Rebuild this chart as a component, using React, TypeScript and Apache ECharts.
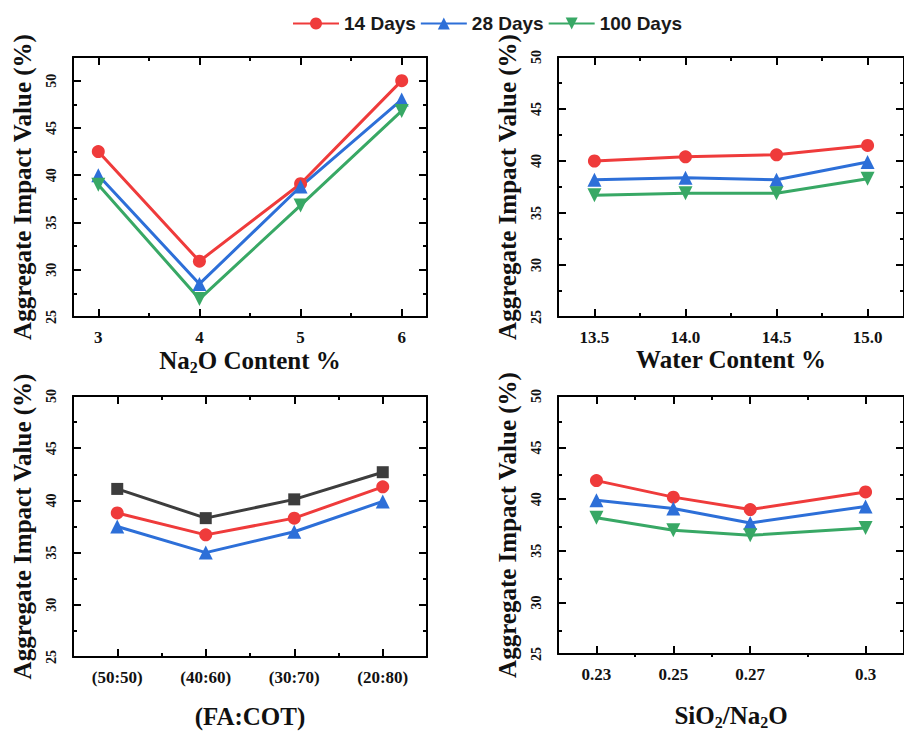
import { useEffect, useRef } from "react";
import * as echarts from "echarts";

// Na2O content series (%)
const na2oContent = [3, 4, 5, 6];
const na2oDay14 = [42.5, 30.9, 39.1, 50.0];
const na2oDay28 = [40.0, 28.5, 38.8, 48.0];
const na2oDay100 = [39.0, 26.9, 36.8, 46.8];
const na2oMinorTicks = [3.5, 4.5, 5.5];

// Water content series (%)
const waterContent = [13.5, 14.0, 14.5, 15.0];
const waterDay14 = [40.0, 40.4, 40.6, 41.5];
const waterDay28 = [38.2, 38.4, 38.2, 39.9];
const waterDay100 = [36.7, 36.9, 36.9, 38.3];
const waterMinorTicks = [13.75, 14.25, 14.75];

// FA:COT ratio series
const faCotRatios = ["(50:50)", "(40:60)", "(30:70)", "(20:80)"];
const faCotSquare = [41.1, 38.3, 40.1, 42.7];
const faCotDay14 = [38.8, 36.7, 38.3, 41.3];
const faCotDay28 = [37.5, 35.0, 37.0, 39.9];

// SiO2/Na2O ratio series
const silicaRatio = [0.23, 0.25, 0.27, 0.3];
const silicaDay14 = [41.8, 40.2, 39.0, 40.7];
const silicaDay28 = [39.9, 39.1, 37.7, 39.3];
const silicaDay100 = [38.2, 37.0, 36.5, 37.2];
const silicaMinorTicks = [0.24, 0.26, 0.285];

// Shared y ticks
const yMajorTicks = [25, 30, 35, 40, 45, 50];
const yMinorTicks = [27.5, 32.5, 37.5, 42.5, 47.5];

const legendNames = ["14 Days", "28 Days", "100 Days"];

const SERIF = '"Liberation Serif", "Times New Roman", serif';
const SANS = '"Liberation Sans", Arial, sans-serif';
const RED = "#ef3b3b";
const BLUE = "#2d6fd8";
const GREEN = "#38a865";
const GRAY = "#3d3d3d";

type Mark = { name: string; color: string; symbol: string; size: number; rotate?: number };
const MARK_14: Mark = { name: "14 Days", color: RED, symbol: "circle", size: 13 };
const MARK_28: Mark = { name: "28 Days", color: BLUE, symbol: "triangle", size: 14 };
const MARK_100: Mark = { name: "100 Days", color: GREEN, symbol: "triangle", size: 14, rotate: 180 };
const MARK_SQ: Mark = { name: "Square", color: GRAY, symbol: "rect", size: 12 };

type Panel = {
  rect: { left: number; top: number; width: number; height: number };
  xMin: number;
  xMax: number;
  yMax: number;
  xMajor: number[];
  xMinor: number[];
  xLabel: (v: number) => string;
  xName: string;
  xNameGap: number;
  lines: { mark: Mark; xs: number[]; ys: number[] }[];
};

const faCotPos = faCotRatios.map((_, i) => i + 0.5);

const panels: Panel[] = [
  {
    rect: { left: 73, top: 57, width: 354, height: 260 },
    xMin: 2.75, xMax: 6.25, yMax: 52.5,
    xMajor: na2oContent, xMinor: na2oMinorTicks,
    xLabel: (v) => String(v),
    xName: "Na{s|2}O Content %", xNameGap: 29,
    lines: [
      { mark: MARK_14, xs: na2oContent, ys: na2oDay14 },
      { mark: MARK_28, xs: na2oContent, ys: na2oDay28 },
      { mark: MARK_100, xs: na2oContent, ys: na2oDay100 },
    ],
  },
  {
    rect: { left: 558, top: 57, width: 352, height: 260 },
    xMin: 13.3, xMax: 15.2, yMax: 50,
    xMajor: waterContent, xMinor: waterMinorTicks,
    xLabel: (v) => v.toFixed(1),
    xName: "Water Content %", xNameGap: 29,
    lines: [
      { mark: MARK_14, xs: waterContent, ys: waterDay14 },
      { mark: MARK_28, xs: waterContent, ys: waterDay28 },
      { mark: MARK_100, xs: waterContent, ys: waterDay100 },
    ],
  },
  {
    rect: { left: 73, top: 396, width: 354, height: 261 },
    xMin: 0, xMax: 4, yMax: 50,
    xMajor: faCotPos, xMinor: [1, 2, 3],
    xLabel: (v) => faCotRatios[Math.floor(v)] ?? "",
    xName: "(FA:COT)", xNameGap: 47,
    lines: [
      { mark: MARK_SQ, xs: faCotPos, ys: faCotSquare },
      { mark: MARK_14, xs: faCotPos, ys: faCotDay14 },
      { mark: MARK_28, xs: faCotPos, ys: faCotDay28 },
    ],
  },
  {
    rect: { left: 558, top: 396, width: 352, height: 261 },
    xMin: 0.22, xMax: 0.31, yMax: 50,
    xMajor: silicaRatio, xMinor: silicaMinorTicks,
    xLabel: (v) => String(v),
    xName: "SiO{s|2}/Na{s|2}O", xNameGap: 47,
    lines: [
      { mark: MARK_14, xs: silicaRatio, ys: silicaDay14 },
      { mark: MARK_28, xs: silicaRatio, ys: silicaDay28 },
      { mark: MARK_100, xs: silicaRatio, ys: silicaDay100 },
    ],
  },
];

const titleStyle = {
  fontFamily: SERIF,
  fontWeight: "bold" as const,
  fontSize: 25,
  color: "#111",
  rich: {
    s: { fontFamily: SERIF, fontWeight: "bold" as const, fontSize: 16, color: "#111", padding: [13, 0, 0, 0] },
  },
};

function buildOption() {
  const grid: any[] = [];
  const xAxis: any[] = [];
  const yAxis: any[] = [];
  const series: any[] = [];

  const frame = { show: true, onZero: false, lineStyle: { color: "#000", width: 2 } };
  const noLine = { show: false, onZero: false };
  const ticks = (values: number[], length: number) => ({
    show: true,
    inside: true,
    length,
    customValues: values,
    lineStyle: { color: "#000", width: 2 },
  });

  panels.forEach((p, k) => {
    const g = 2 * k;
    grid.push({ ...p.rect }, { ...p.rect });

    const xBase = { type: "value", min: p.xMin, max: p.xMax, splitLine: { show: false } };
    xAxis.push(
      {
        ...xBase,
        gridIndex: g,
        position: "bottom",
        axisLine: frame,
        axisTick: ticks(p.xMajor, 8),
        axisLabel: {
          customValues: p.xMajor,
          formatter: p.xLabel,
          margin: 12,
          fontFamily: SERIF,
          fontWeight: "bold",
          fontSize: 17,
          color: "#111",
        },
        name: p.xName,
        nameLocation: "middle",
        nameGap: p.xNameGap,
        nameTextStyle: titleStyle,
      },
      { ...xBase, gridIndex: g, position: "top", axisLine: frame, axisTick: ticks(p.xMajor, 8), axisLabel: { show: false } },
      { ...xBase, gridIndex: g + 1, position: "bottom", axisLine: noLine, axisTick: ticks(p.xMinor, 4), axisLabel: { show: false } },
      { ...xBase, gridIndex: g + 1, position: "top", axisLine: noLine, axisTick: ticks(p.xMinor, 4), axisLabel: { show: false } }
    );

    const yBase = { type: "value", min: 25, max: p.yMax, splitLine: { show: false } };
    yAxis.push(
      {
        ...yBase,
        gridIndex: g,
        position: "left",
        axisLine: frame,
        axisTick: ticks(yMajorTicks, 8),
        axisLabel: {
          customValues: yMajorTicks,
          rotate: 90,
          margin: 15,
          fontFamily: SERIF,
          fontWeight: "bold",
          fontSize: 14,
          color: "#111",
        },
        name: "Aggregate Impact Value (%)",
        nameLocation: "middle",
        nameGap: 38,
        nameTextStyle: titleStyle,
      },
      { ...yBase, gridIndex: g, position: "right", axisLine: frame, axisTick: ticks(yMajorTicks, 8), axisLabel: { show: false } },
      { ...yBase, gridIndex: g + 1, position: "left", axisLine: noLine, axisTick: ticks(yMinorTicks, 4), axisLabel: { show: false } },
      { ...yBase, gridIndex: g + 1, position: "right", axisLine: noLine, axisTick: ticks(yMinorTicks, 4), axisLabel: { show: false } }
    );

    p.lines.forEach((ln) => {
      series.push({
        type: "line",
        name: ln.mark.name,
        xAxisIndex: 4 * k,
        yAxisIndex: 4 * k,
        data: ln.xs.map((x, i) => [x, ln.ys[i]]),
        symbol: ln.mark.symbol,
        symbolSize: ln.mark.size,
        symbolRotate: ln.mark.rotate ?? 0,
        color: ln.mark.color,
        itemStyle: { color: ln.mark.color },
        lineStyle: { color: ln.mark.color, width: 3 },
        emphasis: { disabled: true },
      });
    });
  });

  return {
    animation: false,
    backgroundColor: "#ffffff",
    legend: {
      data: legendNames,
      left: 292,
      top: 14,
      padding: 0,
      itemWidth: 46,
      itemHeight: 15,
      itemGap: 4,
      textStyle: { fontFamily: SANS, fontSize: 19, fontWeight: "bold", color: "#1a1a1a" },
    },
    grid,
    xAxis,
    yAxis,
    series,
  };
}

export default function App() {
  const ref = useRef<HTMLDivElement>(null);
  useEffect(() => {
    if (!ref.current) return;
    const chart = echarts.init(ref.current, undefined, { renderer: "svg" });
    chart.setOption(buildOption() as any);
    return () => chart.dispose();
  }, []);
  return (
    <div
      ref={ref}
      style={{ position: "fixed", left: 0, top: 0, width: 904, height: 731, background: "#fff" }}
    />
  );
}
